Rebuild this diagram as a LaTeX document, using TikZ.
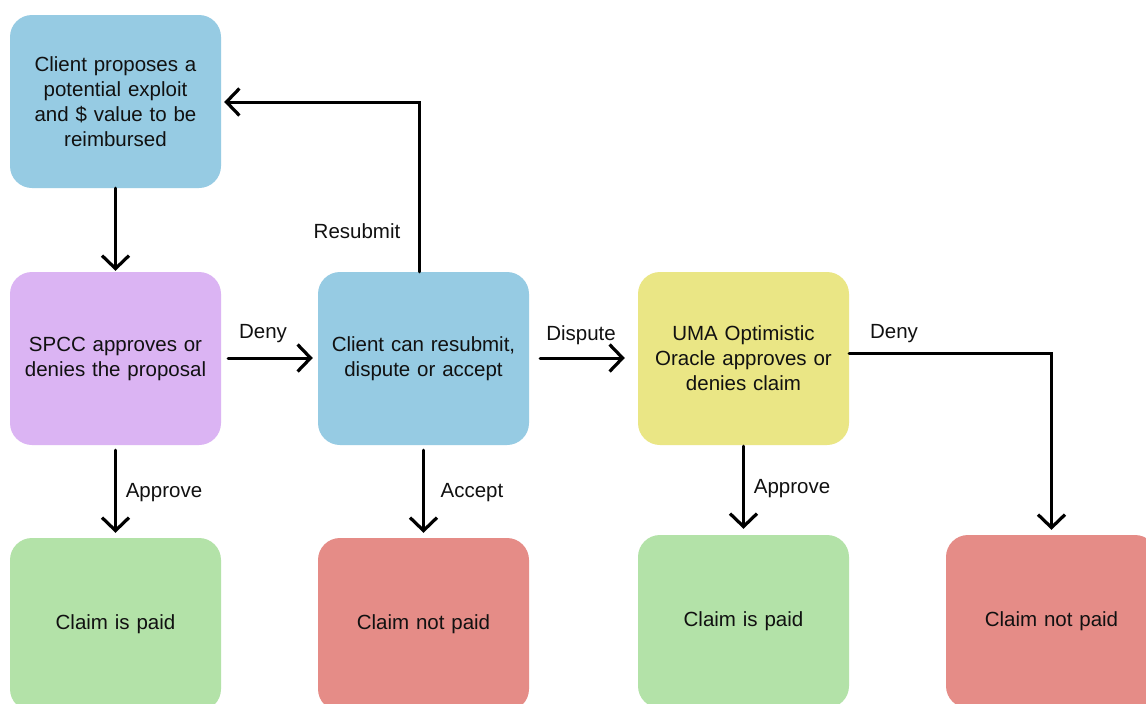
\documentclass[tikz,border=0pt]{standalone}
\usepackage{fontspec}
\setmainfont{Liberation Sans}
\usetikzlibrary{arrows.meta}
\definecolor{cblue}{HTML}{96CBE3}
\definecolor{cpurple}{HTML}{DBB4F3}
\definecolor{cyellow}{HTML}{EAE685}
\definecolor{cgreen}{HTML}{B3E2A8}
\definecolor{cred}{HTML}{E58C87}
\definecolor{ctext}{HTML}{111111}
\begin{document}
\begin{tikzpicture}[x=1pt,y=-1pt,
  box/.style={rounded corners=22pt, minimum width=211pt, minimum height=173pt,
    inner sep=0pt, align=center, text width=200pt, text=ctext,
    font=\fontsize{20.5}{25}\selectfont},
  lbl/.style={text=ctext, font=\fontsize{20.5}{25}\selectfont, inner sep=0pt},
  conn/.style={line width=3pt, draw=black, line cap=round,
    -{Straight Barb[length=13pt,width=27pt,line width=3.2pt]}}]
\useasboundingbox (0,0) rectangle (1146,704);
\fill[white] (0,0) rectangle (1146,704);
\node[box, fill=cblue]   (b1) at (115.5,101.5) {Client proposes a\\potential exploit\\and \$ value to be\\reimbursed};
\node[box, fill=cpurple] (b2) at (115.5,358.5) {SPCC approves or\\denies the proposal};
\node[box, fill=cblue]   (b3) at (423.5,358.5) {Client can resubmit,\\dispute or accept};
\node[box, fill=cyellow] (b4) at (743.5,358.5) {UMA Optimistic\\Oracle approves or\\denies claim};
\node[box, fill=cgreen]  (b5) at (115.5,624.5) {Claim is paid};
\node[box, fill=cred]    (b6) at (423.5,624.5) {Claim not paid};
\node[box, fill=cgreen]  (b7) at (743.5,621.5) {Claim is paid};
\node[box, fill=cred]    (b8) at (1051.5,621.5) {Claim not paid};

\draw[conn, shorten >=1pt] (b1.south) -- (b2.north);
\draw[conn] ([xshift=-4.5pt]b3.north) |- ([xshift=3pt,yshift=-0.5pt]b1.east);
\draw[conn, shorten <=7pt, shorten >=5pt] ([yshift=0.5pt]b2.east) -- ([yshift=0.5pt]b3.west);
\draw[conn, shorten <=11pt, shorten >=13pt] ([yshift=0.5pt]b3.east) -- ([yshift=0.5pt]b4.west);
\draw[conn, shorten >=5pt] ([yshift=5.5pt]b4.east) -| (b8.north);
\draw[conn, shorten <=5pt, shorten >=5pt] (b2.south) -- (b5.north);
\draw[conn, shorten <=5pt, shorten >=5pt] (b3.south) -- (b6.north);
\draw[conn, shorten <=1pt, shorten >=6pt] (b4.south) -- (b7.north);

\node[lbl] (l1) at (357,231) {Resubmit};
\node[lbl] (l2) at (263,334) {Deny};
\node[lbl] (l3) at (581,335) {Dispute};
\node[lbl] (l4) at (894,334) {Deny};
\node[lbl] (l5) at (164,493) {Approve};
\node[lbl] (l6) at (472,493) {Accept};
\node[lbl] (l7) at (792,489) {Approve};
\end{tikzpicture}
\end{document}
